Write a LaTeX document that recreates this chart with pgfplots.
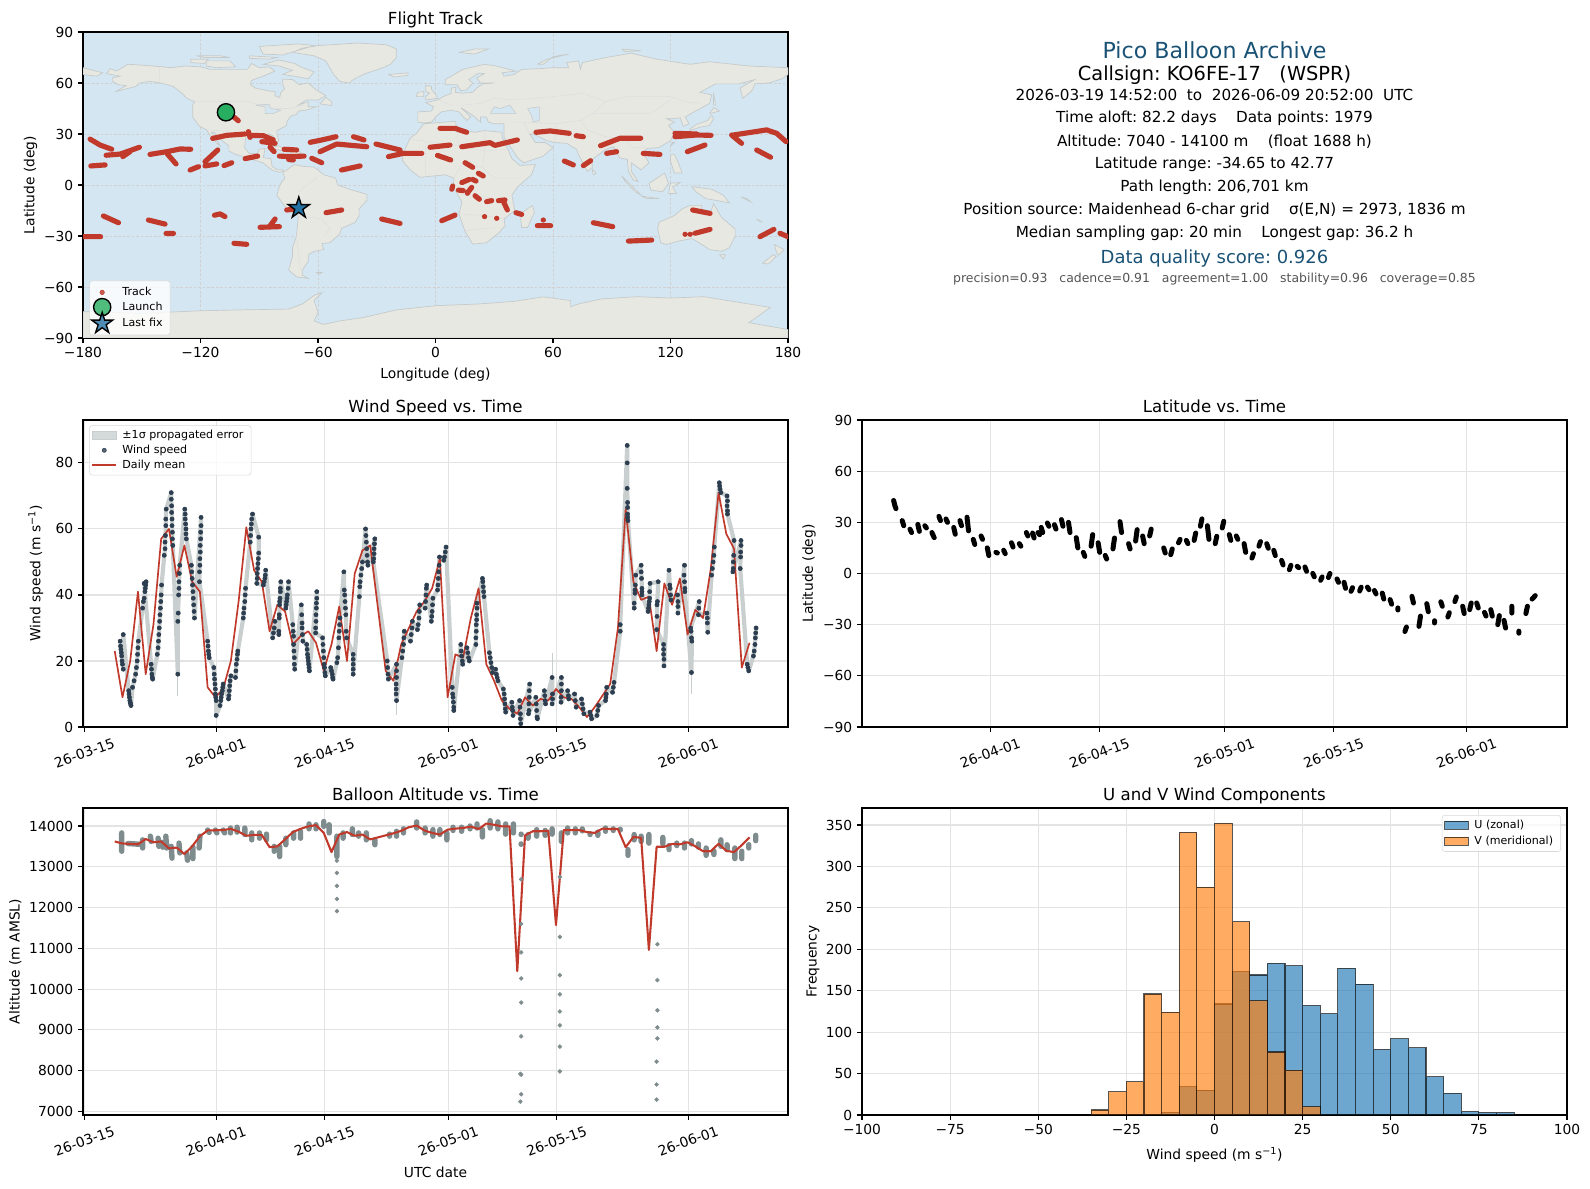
\documentclass[border=0pt]{standalone}
\usepackage{pgfplots}
\usepackage{pgfplotstable}
\usepackage{fontspec}
\setmainfont{DejaVu Sans}
\pgfplotsset{compat=1.18}
\definecolor{ocean}{HTML}{D4E6F1}
\definecolor{landc}{HTML}{E8E8E3}
\definecolor{landedge}{HTML}{C5CACA}
\definecolor{trackred}{HTML}{C0392B}
\definecolor{navy}{HTML}{2C3E50}
\definecolor{slate}{HTML}{7F8C8D}
\definecolor{titleblue}{HTML}{1A5276}
\definecolor{launchgreen}{HTML}{27AE60}
\definecolor{fixblue}{HTML}{2471A3}
\definecolor{cu}{HTML}{1F77B4}
\definecolor{cv}{HTML}{FF7F0E}
\def\U{0.72bp}
\newcommand{\fs}[1]{\fontsize{#1}{#1}\selectfont}

\pgfdeclareplotmark{fstar}{%
  \pgfpathmoveto{\pgfqpoint{0pt}{1\pgfplotmarksize}}%
  \pgfpathlineto{\pgfqpoint{-.2245\pgfplotmarksize}{.309\pgfplotmarksize}}%
  \pgfpathlineto{\pgfqpoint{-.951\pgfplotmarksize}{.309\pgfplotmarksize}}%
  \pgfpathlineto{\pgfqpoint{-.363\pgfplotmarksize}{-.118\pgfplotmarksize}}%
  \pgfpathlineto{\pgfqpoint{-.588\pgfplotmarksize}{-.809\pgfplotmarksize}}%
  \pgfpathlineto{\pgfqpoint{0pt}{-.382\pgfplotmarksize}}%
  \pgfpathlineto{\pgfqpoint{.588\pgfplotmarksize}{-.809\pgfplotmarksize}}%
  \pgfpathlineto{\pgfqpoint{.363\pgfplotmarksize}{-.118\pgfplotmarksize}}%
  \pgfpathlineto{\pgfqpoint{.951\pgfplotmarksize}{.309\pgfplotmarksize}}%
  \pgfpathlineto{\pgfqpoint{.2245\pgfplotmarksize}{.309\pgfplotmarksize}}%
  \pgfpathclose\pgfusepathqfillstroke}

\pgfplotsset{
  panel/.style={
    scale only axis, width=705*\U, height=306*\U, anchor=south west,
    tick align=outside, tick pos=left, tickwidth=3.5pt,
    major tick style={black,line width=.8pt},
    axis line style={line width=.8pt},
    scaled ticks=false,
    grid=major, grid style={line width=.8pt,black!11},
    tick label style={font=\fs{10}},
    label style={font=\fs{10}},
    title style={font=\fs{12},at={(axis description cs:.5,1)},anchor=center,yshift=4*\U,
      text height=9pt,text depth=2.5pt},
    legend cell align=left,
    unbounded coords=jump,
  },
  dates/.style={
    xticklabel style={rotate=20,anchor=center,xshift=-7.5*\U,yshift=-20*\U},
  },
  leg/.style={
    legend style={font=\fs{8},draw=black!15,fill=white,fill opacity=.8,text opacity=1,
      rounded corners=2pt,inner sep=1.5pt},
  },
  land/.style={fill=landc,draw=landedge,line width=.5pt,forget plot},
  sea/.style={fill=ocean,draw=landedge,line width=.4pt,forget plot},
}

% islands: lon lat, nan rows split the shapes
\pgfplotstableread[row sep=crcr]{
x y\\
-73 78\\-68 80.5\\-60 82\\-40 83.5\\-25 82.5\\-20 80\\-20 75\\-23 71\\-28 68.5\\-36 65.5\\-42 62\\-44 60\\-49 61\\-52 65\\-54 69\\-56 73\\-62 76\\-73 78\\0 nan\\
-80 73.5\\-72 71.5\\-68 69\\-62 66.5\\-65 62.5\\-72 64\\-78 65\\-73 67.5\\-80 70\\-88 71\\-80 73.5\\0 nan\\
-117 73\\-105 73\\-102 69.5\\-112 69\\-117 70\\-117 73\\0 nan\\
-125 74\\-116 74\\-118 71.5\\-125 72\\-125 74\\0 nan\\
-88 77\\-78 76.5\\-62 82\\-70 83\\-90 81.5\\-88 77\\0 nan\\
-95 76\\-81 75\\-85 74\\-95 74.5\\-95 76\\0 nan\\
-122 76\\-110 76\\-105 75\\-118 75\\-122 76\\0 nan\\
-59 47.7\\-53 46.8\\-53 49\\-56 51.5\\-59 47.7\\0 nan\\
-85 22\\-80 23\\-74.5 20\\-78 20\\-85 22\\0 nan\\
-74 19.8\\-69 19.5\\-68.5 18.3\\-74 18\\-74 19.8\\0 nan\\
-180 69\\-175 67.5\\-170 66\\-173 64\\-180 65\\-180 69\\0 nan\\
-61 -51.5\\-58 -51.5\\-59 -52.3\\-61 -51.5\\0 nan\\
49.5 -12\\50.5 -16\\47 -25\\44 -25\\43.5 -20\\44.5 -16\\49.5 -12\\0 nan\\
-5 50\\1 51\\0 53.5\\-2 56\\-2 58\\-5 58.5\\-5 55\\-3 54\\-5 52\\-5 50\\0 nan\\
-10 52\\-6 52\\-6 55\\-9 54.5\\-10 52\\0 nan\\
-24 65\\-14 66\\-14 64.5\\-21 63.5\\-24 65\\0 nan\\
12 78\\20 80\\27 80\\20 77\\12 78\\0 nan\\
52 71\\57 74\\68 77\\60 75.5\\55 71\\52 71\\0 nan\\
95 80\\105 79\\97 78.5\\95 80\\0 nan\\
142 54\\143 47\\142 47\\142 54\\0 nan\\
130 32\\135 34\\140 35\\142 39\\141 41\\139 38\\133 35.5\\130 33\\130 32\\0 nan\\
140 42\\145 43.5\\142 45.5\\140 42\\0 nan\\
120 23\\122 25\\121 25\\120 23\\0 nan\\
120 18\\122 18\\124 13\\126 7\\122 7\\120 14\\120 18\\0 nan\\
109 1\\117 7\\119 1\\116 -4\\110 -3\\109 1\\0 nan\\
95 5.5\\105 -6\\102 -4\\97 2\\95 5.5\\0 nan\\
105 -6.5\\114 -8\\108 -8\\105 -6.5\\0 nan\\
119 -5\\120 1\\125 1.5\\121 -1\\123 -5\\119 -5\\0 nan\\
131 -1\\141 -2.5\\147 -6\\150 -10.5\\143 -9\\138 -8\\133 -4\\131 -1\\0 nan\\
80 9.5\\82 7\\80.5 6\\80 9.5\\0 nan\\
156 -7\\161 -10\\159 -8\\156 -7\\0 nan\\
164 -20\\167 -22\\165 -21\\164 -20\\0 nan\\
145 -41\\148 -41\\147 -43.5\\145 -41\\0 nan\\
173 -35\\178 -38\\175 -41.5\\174 -39\\173 -35\\0 nan\\
172.5 -41\\174 -42\\170 -46.5\\167 -46\\172.5 -41\\
}\islandtable

% wind speed samples: day since 26-03-15, m/s
\pgfplotstableread[row sep=crcr]{
d v\\
4.6 26\\4.65 24.5\\4.7 23.5\\4.75 22.5\\4.8 21.5\\4.85 20\\4.9 19\\5 17.5\\5 28\\
5.7 11\\5.75 10\\5.8 9\\5.85 8\\5.9 7.5\\5.95 7\\6 6.5\\
6.2 12\\6.4 14\\6.6 16\\6.7 18\\6.8 20\\6.85 22\\6.9 24\\6.95 26\\
7.5 36\\7.6 38\\7.7 39\\7.8 41\\7.85 42\\7.9 43\\7.95 44\\7.7 43.5\\
8.6 19\\8.65 17.5\\8.7 16\\8.75 15\\8.8 14.5\\
9.4 22\\9.5 24\\9.55 26\\9.6 28\\9.65 30\\9.7 32\\9.75 34\\9.8 36\\9.85 38\\9.9 40\\9.95 43\\
10.3 52\\10.4 54\\10.4 56\\10.45 58\\10.5 61\\10.5 63\\10.55 66\\
11.2 71\\11.2 69\\11.25 67\\11.25 65\\11.3 63\\11.3 61\\11.35 59\\11.35 57\\11.4 55\\
12.05 16\\12.05 32\\12.1 34.5\\12.15 40\\12.2 42\\12.2 44\\12.25 46.5\\12.3 49\\
12.95 66\\13 64.5\\13 63\\13.05 61.5\\13.1 60\\13.1 58.5\\13.15 57\\
13.8 49\\13.85 47\\13.9 45\\13.95 43\\14 41\\14.05 39\\14.1 37\\14.15 35\\14.2 33\\
15.05 63.5\\15.05 61\\15 59\\15 57\\14.95 55\\14.95 53\\14.9 51\\14.9 49\\14.85 47\\14.85 44\\
15.9 26\\15.95 24.5\\16 23\\16.05 22\\16.1 21\\
16.7 18\\16.75 16\\16.8 14.5\\16.85 13\\16.9 11.5\\16.9 10\\16.95 9\\17 8\\17 3.5\\
17.5 6.5\\17.6 8\\17.65 9\\17.7 10\\17.8 11\\17.85 12\\17.9 13\\
18.6 8.5\\18.65 9.5\\18.7 11\\18.75 12.5\\18.8 14\\18.9 15.5\\
19.5 15\\19.55 17\\19.6 19\\19.7 20.5\\19.75 22\\19.8 23\\
20.5 33\\20.55 34.5\\20.6 36\\20.7 38\\20.75 40\\20.8 42\\
21.4 56\\21.45 58\\21.5 60\\21.55 61.5\\21.6 63\\21.7 64.5\\
22.5 57.5\\22.5 52.7\\22.45 51\\22.4 49.5\\22.35 48\\22.3 46.5\\22.3 45\\22.25 43.5\\
23.1 43\\23.2 44\\23.3 45\\23.35 46\\23.4 47.5\\
24.3 27\\24.4 28.5\\24.5 30\\24.6 32\\
25.1 28\\25.1 29\\25.15 33\\25.15 34\\25.2 37\\25.2 38\\25.25 39\\25.3 41\\25.3 42\\25.35 44\\
26 36\\26.05 37\\26.1 38\\26.15 39\\26.2 40\\26.3 42\\26.35 44\\
26.9 31\\26.95 29\\27 27.5\\27 25\\27.05 23\\27.1 21\\27.1 19\\27.15 17.5\\
28 37\\28.05 34\\28.1 31.5\\28.1 30\\28.15 28\\28.2 26\\
28.7 25\\28.75 23.5\\28.8 22\\28.85 21\\28.9 20\\28.95 19\\29 18\\29.05 17\\
30 41\\30 39\\29.95 37.5\\29.95 36\\29.9 34\\29.9 32\\29.85 30\\29.85 28.5\\
30.75 27\\30.8 25\\30.85 23\\30.9 21\\30.95 19\\31 18\\31.05 16.5\\31.1 15.5\\
31.8 18\\31.9 17\\32 16\\32.05 15\\32.1 14.5\\
32.6 19.5\\32.7 21\\32.8 24\\32.85 27\\32.9 29\\32.95 31\\33 33\\
33.5 47\\33.55 41.5\\33.6 40\\33.65 38\\33.7 36\\33.75 34\\33.8 29\\33.85 27\\
34.7 22\\34.7 20.5\\34.7 19\\34.7 17.5\\34.7 16\\
35.5 39.5\\35.55 42.5\\35.6 44\\35.7 46\\35.8 48\\35.9 50\\
36.3 60\\36.35 58\\36.4 56\\36.45 54\\36.5 52\\36.55 50\\36.6 49\\
37.5 57\\37.45 55.5\\37.4 54\\37.4 52.5\\37.35 51\\37.3 50\\
39.1 20\\39.15 18\\39.2 16\\39.25 14.5\\
40.3 19\\40.3 17\\40.3 15\\40.25 13\\40.25 11.5\\40.25 10\\40.3 8\\
41 21\\41.1 23\\41.2 25\\41.25 27\\41.3 29\\
42.1 26\\42.2 28\\42.3 30\\42.35 32\\
43 29.5\\43.1 31\\43.2 33\\43.25 35\\43.3 37\\
44 36\\44.05 38\\44.1 40\\44.15 42\\44.2 43\\
44.8 32\\44.85 33.5\\44.9 35\\44.95 37\\45 39\\
45.6 41.5\\45.65 43\\45.7 45\\45.75 47\\45.8 49\\45.85 51.5\\
46.4 50.5\\46.5 51.5\\46.6 53\\46.7 54.5\\
47.5 12\\47.55 10\\47.6 9\\47.65 7.5\\47.7 6\\47.7 5\\
48.6 25\\48.65 23\\48.7 21.5\\48.8 20\\48.85 19\\
49.4 24\\49.5 22.5\\49.6 21\\49.7 20\\
50.55 25\\50.55 27\\50.6 29\\50.6 31\\50.65 32.5\\50.65 34\\50.7 36\\50.7 37.5\\
51.4 45\\51.45 44\\51.5 42.5\\51.55 41\\51.6 39.5\\
52.3 22.5\\52.4 21\\52.5 19.5\\52.6 18\\52.7 16.5\\
53.1 17.5\\53.2 16\\53.3 15\\53.4 14\\
54.1 11.5\\54.2 10\\54.25 8.5\\54.3 7\\54.35 5.5\\54.4 4.5\\
55.2 7.5\\55.25 6\\55.3 5\\55.35 3.5\\
56.2 8\\56.25 6\\56.3 4\\56.3 2.5\\56.35 1\\
57.5 13\\57.45 11\\57.45 9\\57.4 7\\57.4 5\\57.35 4\\
58.3 9\\58.35 7\\58.4 5\\58.45 3\\58.5 2.5\\
59.4 11\\59.45 9.5\\59.5 8\\59.55 7\\
60.4 15\\60.45 10\\60.45 8.5\\60.4 7\\
61.6 15\\61.6 13\\61.6 11\\61.55 9\\61.55 7.5\\
62.4 11\\62.5 9.5\\62.55 8.5\\
63.3 10\\63.4 8\\63.5 6\\
64.2 8.5\\64.3 7\\64.4 5.5\\64.5 4\\
65.3 4.5\\65.4 3.5\\65.5 2.5\\
66.2 3.5\\66.3 5\\66.4 6.5\\
67.3 8\\67.35 9\\67.4 10\\67.45 12\\
68.2 10.5\\68.3 12\\68.4 13.5\\
69.2 29\\69.2 31\\
70.1 85.3\\70.1 80\\70.1 72.3\\70.15 68\\70.15 66.5\\70.15 64.5\\70.15 63.5\\70.2 62.5\\
71 36\\71 37.5\\71.1 40.5\\71.1 41.5\\71.15 43\\71.2 46\\
71.9 49\\71.9 47\\71.95 45\\72 42\\72 41\\72 40\\
72.8 35\\72.85 36\\72.9 37\\72.95 38\\73 39\\73 41\\73.05 43.5\\
74.1 44\\74 38\\73.95 37\\73.95 33.5\\73.9 29.5\\
74.8 25\\74.8 23.5\\74.8 22\\74.85 20.5\\74.85 18.5\\
75.5 47.5\\75.6 43\\75.65 42\\75.7 40\\75.75 38.5\\
76.6 40\\76.65 38\\76.65 36.5\\76.65 34.5\\
77.5 49\\77.45 46\\77.5 44\\77.55 42\\77.55 41\\
78.4 16.5\\78.45 26\\78.4 27\\78.35 29\\78.3 30\\
79.4 38\\79.35 36\\79.3 34\\
80.4 34.5\\80.45 33\\80.45 31.5\\80.5 28.7\\
81 46\\81.1 48\\81.2 50\\81.3 52\\81.35 54.5\\
82 74\\82.05 73\\82.1 72\\82.2 71\\
83 70\\83.05 68.5\\83 67\\83.05 65.5\\83.05 64.5\\
83.9 56.5\\83.85 52\\83.8 50\\83.8 48\\83.75 47\\
84.8 56.5\\84.8 55\\84.75 53\\84.75 51.5\\84.7 48\\
85.6 19\\85.7 18\\85.8 17\\
86.4 21.5\\86.5 23\\86.6 25\\86.65 27\\86.7 28.5\\86.75 30\\
}\windtable

% daily means (same day index for wind and altitude)
\pgfplotstableread[row sep=crcr]{
d v h\\
3.9 23 13620\\4.9 9 13570\\5.9 20 13560\\6.9 41 13550\\7.9 16 13680\\8.9 31 13600\\9.9 57 13620\\10.9 60 13450\\11.9 45.5 13470\\12.9 55 13310\\
13.9 44 13500\\14.9 41 13750\\15.9 12 13890\\16.9 9 13895\\17.9 11.5 13900\\18.9 20 13930\\19.9 38 13860\\20.9 60.5 13760\\21.9 47.5 13780\\22.9 44 13780\\
23.9 29 13480\\24.9 37 13500\\25.9 35 13670\\26.9 25 13850\\27.9 27.5 13930\\28.9 29 13990\\29.9 25.5 14020\\30.9 17 13830\\31.9 25 13360\\32.9 36.5 13790\\
33.9 20 13850\\34.9 46.5 13760\\35.9 53.5 13790\\36.9 55 13670\\37.9 36 13720\\38.9 17 13770\\39.9 14 13820\\40.9 25 13880\\41.9 30 13970\\42.9 35 14010\\
43.9 38 13890\\44.9 42 13830\\45.9 51 13790\\46.9 9 13910\\47.9 22 13935\\48.9 21 13950\\49.9 33 13985\\50.9 42 13925\\51.9 19 14060\\52.9 14 14030\\
53.9 8 13990\\54.9 5.5 13990\\55.9 4 10440\\56.9 9 13770\\57.9 6.5 13870\\58.9 8.5 13870\\59.9 8 13885\\60.9 11.5 11570\\61.9 9 13900\\62.9 8.5 13900\\
63.9 6 13900\\64.9 3 13850\\65.9 6 13830\\66.9 9.5 13935\\67.9 13 13925\\68.9 30 13925\\69.9 66 13480\\70.9 44 13730\\71.9 38.5 13710\\72.9 39.5 10960\\
73.9 23 13490\\74.9 43.5 13490\\75.9 37 13560\\76.9 45 13550\\77.9 28 13600\\78.9 35.5 13500\\79.9 33 13380\\80.9 48 13380\\81.9 71 13565\\82.9 58.5 13390\\
83.9 54 13360\\84.9 18 13530\\85.9 25.5 13720\\
}\dailytable

\begin{document}
\frenchspacing
\begin{tikzpicture}
\path[use as bounding box] (0,0) rectangle (1590*\U,1189*\U);

%%% Flight track map
\begin{axis}[panel, leg, at={(83*\U,851*\U)},
  title={Flight Track}, xlabel={Longitude (deg)}, ylabel={Latitude (deg)},
  xmin=-180,xmax=180,ymin=-90,ymax=90,
  xtick={-180,-120,-60,0,60,120,180}, xticklabels={−180,−120,−60,0,60,120,180},
  ytick={-90,-60,-30,0,30,60,90}, yticklabels={−90,−60,−30,0,30,60,90},
  axis background/.style={fill=ocean},
  grid style={line width=.4pt,black!18,dash pattern=on 2pt off 1.2pt},
  x label style={at={(axis description cs:.5,-.121)},anchor=center},
  y label style={at={(axis description cs:-.0743,.5)},anchor=center},
  legend style={at={(axis description cs:.0089,.0088)},anchor=south west,row sep=-3bp,column sep=3bp,
    nodes={minimum height=13.6bp,inner ysep=0pt,inner xsep=4pt}},
]
% continents
\addplot[land] coordinates {
(-168,65.5)(-166,68.5)(-163,67)(-157,71)(-150,70.5)(-141,69.7)(-135,69)(-128,70)(-120,69.5)(-115,68)(-108,68)(-100,68)(-96,68)(-94,71.5)(-90,69)(-85,69.5)(-82,67)(-87,64.5)(-94,61.5)(-94.5,59)(-92,57)(-85,55.3)(-82,55)(-82,52.5)(-79.5,51.5)(-79,54.5)(-77,56.5)(-78,59)(-78,62.3)(-73,62)(-69.5,59)(-65,60)(-61,56)(-56,52.5)(-60,50)(-66,50)(-70,47)(-65,49)(-65,46)(-61,46)(-66,44)(-70,43.5)(-71,41.5)(-74,40.5)(-76,37)(-76,35)(-81,32)(-81,30)(-80,26)(-81,25)(-83,29)(-85,30)(-90,29.5)(-94,29.5)(-97,27.5)(-97.5,22)(-95,18.5)(-91,18.5)(-90,21)(-87,21.5)(-88,16)(-84,15.5)(-83.5,11)(-81,9)(-78,9)(-77.5,8)(-80,7.5)(-83,8.5)(-86,11)(-88,13)(-92,14.5)(-96,16)(-102,18)(-105.5,20)(-105.5,23)(-110,27)(-113,31)(-114.5,31)(-111,25)(-110,23)(-112,25)(-115,29)(-117,32.5)(-120.5,34.5)(-124,40)(-124,47)(-123,49)(-127,51)(-130,54.5)(-134,58)(-140,60)(-146,61)(-151,60)(-153,58)(-158,56.5)(-163,55)(-158,58.5)(-162,59)(-165,61)(-165,63)(-161,64)(-168,65.5)(0,nan)
(-77,8)(-72,12)(-68,11)(-62,10.5)(-57,6)(-51,4)(-50,0)(-44,-2.5)(-35,-5.5)(-35,-9)(-39,-14)(-39,-18)(-41,-22)(-48,-25.5)(-49,-29)(-54,-34)(-58,-34.5)(-57,-38)(-62,-39)(-65,-41)(-65,-45)(-68,-50)(-68,-53)(-65,-55)(-71,-54)(-75,-50)(-73,-42)(-73,-37)(-71,-30)(-70,-18)(-76,-14)(-81,-6)(-80,-2)(-79,1)(-77,4)(-78,8)(-77,8)(0,nan)
(-6,36)(10,37.5)(11,33.5)(20,31)(25,32)(34,31)(34,28)(37,21)(39,15.5)(43,11.5)(51,12)(49,6)(42,-1)(39,-6)(40.5,-15)(35,-20)(35.5,-24)(32.5,-28)(26,-34)(19,-34.8)(15,-27)(12,-17)(13.5,-10)(9,-1)(9.5,4)(5,6)(-4,5)(-8,4.5)(-13,9)(-17,14.5)(-16,20)(-13,27.5)(-10,30)(-6,36)(0,nan)
(-9,37)(-9,43)(-2,43.5)(-1,46)(-5,48.5)(1,50)(4,52)(8,54)(8,57)(10.5,57.5)(10,54.5)(14,54)(19,54.5)(21,57)(24,59.5)(30,60)(23,60)(21,63)(25,65.5)(22,65.8)(17,62)(19,60)(16,56)(13,55.5)(11,59)(5,59)(5,62)(14,68)(25,71)(31,70)(41,67)(34,66)(35,64)(40,65)(44,68)(54,68.5)(60,69)(68,69)(67,72)(73,73)(74,68)(75,72)(81,73.5)(87,75)(100,77.5)(113,74)(130,71)(140,72.5)(160,70)(170,69.5)(180,69)(180,65)(177,62.5)(170,60)(163,59.5)(162,56)(157,51)(155.5,57)(163,62)(155,59.5)(143,59.5)(135,54.5)(141,53)(140,48)(132,43)(127.5,40)(129.5,36)(126.5,34.5)(125,39.5)(121,39)(118,39)(122,37)(119,35)(122,31)(120,26)(114,22)(108,21.5)(106,19)(109,13)(105,9)(100,13)(100,8)(103.5,2)(101,3)(98.5,8)(98,15)(94,16)(91,22.5)(87,21)(80,15)(80,10)(77.5,8)(73,18)(72,21)(67,24.5)(61,25)(57,26)(50,30)(48,30)(51,25)(56,25)(60,22)(55,17)(45,13)(42,16)(35,28)(35,36)(30,36)(27,37)(26,40)(23,40)(23,37)(19,41)(13,45.5)(18,40)(16,38)(12,43)(8,44)(3,43)(0,40)(-2,37)(-6,36.5)(-9,37)(0,nan)
(114,-22)(122,-18)(126,-14)(130,-12)(136,-12)(136,-15)(140,-17.5)(142,-11)(146,-19)(153,-26)(153,-30)(150,-37)(146,-39)(140,-38)(136,-35)(131,-31.5)(124,-33)(118,-35)(115,-34)(113.5,-26)(114,-22)(0,nan)
(-180,-90)(-180,-74.5)(-150,-75.5)(-120,-74)(-100,-73.5)(-75,-73)(-68,-70)(-62,-65)(-58,-63.3)(-62,-68)(-60,-75)(-62,-80)(-57,-82)(-49,-80)(-37,-78)(-20,-73.5)(0,-71)(22,-70)(40,-68.5)(55,-65.8)(69,-68)(69,-71.6)(73,-70)(85,-67)(103,-65.7)(120,-66.5)(137,-65.7)(160,-70)(171,-72)(165,-77)(160,-81)(180,-85)(180,-90)(-180,-90)
};
% inland seas
\addplot[sea] coordinates {(28,42)(30,46)(33,45)(38,47)(41,42)(35,42)(28,42)(0,nan)(47,45)(53,46)(53,38)(50,37)(49,41)(47,45)(0,nan)(-92,47)(-85,47.5)(-84,45)(-79,44)(-83,42)(-87,42)(-87,46)(-92,47)};
% a few borders
\addplot[line width=.4pt,black!13,forget plot] coordinates {(-123,49)(-95,49)(-83,45)(-75,45)(-67,47)(0,nan)(-117,32.5)(-106,31.5)(-97,26)(0,nan)(-141,69.7)(-141,60)(0,nan)(-70,-18)(-58,-20)(-54,-26)(-57,-30)(0,nan)(-70,-4)(-60,5)(0,nan)(-70,-18)(-70,-5)(0,nan)(-71,-30)(-69,-50)(0,nan)(25,32)(25,20)(37,21)(0,nan)(10,37)(12,23)(25,20)(24,10)(30,4)(42,4)(0,nan)(-13,27)(12,23)(0,nan)(-5,5)(-5,25)(0,nan)(9,4)(14,13)(24,10)(0,nan)(13,-5)(30,-8)(40,-11)(0,nan)(12,-17)(25,-18)(35,-20)(0,nan)(15,-27)(30,-25)(0,nan)(2,50)(8,47)(14,47)(23,48)(30,51)(40,50)(50,51)(60,52)(75,54)(87,49)(98,52)(120,52)(128,49)(135,48)(0,nan)(87,49)(80,42)(74,38)(62,36)(50,37)(0,nan)(80,42)(90,42)(110,42)(120,50)(0,nan)(74,38)(78,32)(88,28)(97,28)(100,22)(107,22)(0,nan)(62,36)(61,25)(0,nan)(39,37)(45,37)(48,30)(0,nan)(45,37)(62,36)};
% Greenland, arctic and other islands
\addplot[land] table[x=x,y=y] {\islandtable};
% track
\addplot[trackred,line width=3.7bp,line cap=round,line join=round,forget plot] coordinates {
(-103.2,40.2)(-100.7,37.8)(0,nan)
(-176.4,27)(-171.3,23.5)(-165.3,21)(0,nan)
(-168.2,17.5)(-161,18.2)(-156,20.2)(-151.2,22.2)(0,nan)
(-159.7,16.7)(-156,19.6)(0,nan)
(-145.8,18)(-137.2,19.6)(-130.4,21.2)(-125,21)(0,nan)
(-136.9,18.2)(-132.5,12.4)(0,nan)
(-176,11.2)(-168.7,11.8)(0,nan)
(-125.3,8.8)(-121,10.8)(0,nan)
(-117.7,11.2)(-111.7,12.4)(0,nan)
(-117.7,13.7)(-111.2,20.6)(0,nan)
(-108,11.4)(-104,13.1)(0,nan)
(-113.8,27.4)(-106.6,29.2)(-97.2,30)(0,nan)
(-95.5,31.4)(-94.7,28)(0,nan)
(-94.7,29.2)(-87.9,29)(-82.8,26.5)(0,nan)
(-88.7,25.5)(-81.9,24.5)(0,nan)
(-84.5,22.2)(-82.4,19.6)(0,nan)
(-97.2,15.5)(-90.8,17)(0,nan)
(-77.3,21)(-70.9,20.6)(0,nan)
(-79.7,17)(-74.3,16.7)(-67.1,17)(0,nan)
(-75,15)(-72.6,14.7)(0,nan)
(-63.2,15.7)(-58.1,13.1)(0,nan)
(-64,25.1)(-58,26.5)(-50.8,28.4)(0,nan)
(-59,19.6)(-50.4,24.1)(-35.1,22.5)(0,nan)
(-41.9,28.4)(-36.5,26.5)(0,nan)
(-30.4,24.1)(-18.1,20.6)(0,nan)
(-24,16.7)(-16.4,18.6)(-7,18.6)(0,nan)
(-48,8.8)(-38.5,11.2)(0,nan)
(-169.6,-18.2)(-161.9,-22.2)(0,nan)
(-146.6,-20.6)(-138.1,-23)(0,nan)
(-137.6,-28.5)(-133.8,-28.5)(0,nan)
(-180,-30.4)(-171,-30.4)(0,nan)
(-112.9,-17.8)(-110,-17)(-107.5,-18.6)(0,nan)
(-102.9,-34.3)(-96.4,-34.9)(0,nan)
(-89.6,-24.9)(-79.7,-24.5)(0,nan)
(-84.8,-24.5)(-81.9,-20)(0,nan)
(-76,-14.7)(-72.6,-14.3)(0,nan)
(-55.9,-16.3)(-47.9,-14.7)(0,nan)
(-27.5,-20)(-18.1,-22.6)(0,nan)
(-2.8,22.2)(7.4,23.5)(0,nan)
(2.3,33.3)(10,33.3)(15.9,31)(0,nan)
(13.4,22.5)(27.8,24.9)(30.4,23.3)(41.8,26.5)(0,nan)
(1,17.4)(7.8,14.7)(0,nan)
(15.1,13.1)(19,10.4)(0,nan)
(21.9,6.9)(24.4,5.3)(0,nan)
(13.4,1.4)(17.3,3.3)(0,nan)
(19,3.3)(20.7,2.3)(0,nan)
(8.8,-0.6)(8.3,-2.5)(0,nan)
(11.7,-3)(14.2,-3.3)(0,nan)
(16.3,-4.9)(16.8,-3.9)(18.5,-1.4)(0,nan)
(20.2,-6.3)(22.4,-8.4)(0,nan)
(26.1,-9.8)(28.7,-9.2)(0,nan)
(32.1,-9.2)(35.5,-8.8)(0,nan)
(34.3,-8.8)(36.7,-14.7)(0,nan)
(41.1,-16.3)(44,-17.3)(0,nan)
(3.2,-21)(10,-17.7)(0,nan)
(25,-18.6)(25.1,-18.6)(0,nan)
(31.2,-19.6)(31.3,-19.6)(0,nan)
(52,-23.9)(58.8,-23.9)(0,nan)
(55,-20.6)(55.1,-20.6)(0,nan)
(51.3,31)(58.5,31.8)(68.3,30.4)(0,nan)
(71.8,29)(75.5,28.4)(0,nan)
(65.8,14.1)(70.4,11.8)(0,nan)
(75.5,11.4)(79.2,14.3)(0,nan)
(84.3,23.1)(94.2,27.5)(104.8,27.5)(0,nan)
(87.4,18.6)(92.5,19.6)(0,nan)
(106.1,18.6)(114.6,18)(0,nan)
(80.6,-22.2)(90.5,-24.5)(0,nan)
(98.5,-33)(110.4,-32.4)(0,nan)
(122.3,30.4)(133.4,30)(0,nan)
(122.3,28.4)(133.4,29.4)(140.7,29.2)(0,nan)
(128.6,19.6)(137.6,23.5)(0,nan)
(131.3,-14.7)(140.2,-16.7)(0,nan)
(127.4,-29)(127.5,-29)(0,nan)
(130,-29)(130.1,-29)(0,nan)
(132.5,-28.4)(140.2,-26.1)(0,nan)
(151.2,29.4)(156.3,24.5)(0,nan)
(152.1,29.4)(169.1,32.4)(174.2,30.4)(179,25.5)(0,nan)
(164,20.6)(171.1,16.3)(0,nan)
(165.7,-30.4)(172.8,-26.1)(0,nan)
(175.9,-28.4)(180,-30.4)
};
\addlegendimage{only marks,mark=*,mark size=1.6bp,trackred,draw=trackred}
\addlegendentry{Track}
\addplot[only marks,mark=*,mark size=6.2bp,mark options={fill=launchgreen,draw=black,line width=1pt}] coordinates {(-107,42.77)};
\addlegendentry{Launch}
\addplot[only marks,mark=fstar,mark size=8bp,mark options={fill=fixblue,draw=black,line width=1pt}] coordinates {(-69.8,-13.6)};
\addlegendentry{Last fix}
\end{axis}

%%% Wind speed
\begin{axis}[panel, leg, dates, at={(83*\U,462*\U)}, height=307*\U,
  title={Wind Speed vs. Time}, ylabel={Wind speed (m s\textsuperscript{−1})},
  xmin=-.2,xmax=90.87,ymin=0,ymax=93,
  xtick={0,17,31,47,61,78}, xticklabels={26-03-15,26-04-01,26-04-15,26-05-01,26-05-15,26-06-01},
  ytick={0,20,40,60,80}, yticklabels={0,20,40,60,80},
  y label style={at={(axis description cs:-.067,.5)},anchor=center},
  legend style={at={(axis description cs:.0089,.9827)},anchor=north west,row sep=-1pt,
    nodes={inner xsep=4pt}},
]
\addplot[slate!42,line width=3bp,line join=round,line cap=round,forget plot] table[x=d,y=v] {\windtable};
\addplot[slate!42,line width=.8pt,forget plot] coordinates {(12.05,9.5)(12.05,33)(0,nan)(78.4,10)(78.4,27)(0,nan)(60.4,9)(60.4,22.5)(0,nan)(40.3,3.5)(40.3,12)(0,nan)(47.6,8)(47.6,13)};
\addlegendimage{area legend,fill=slate!42,draw=slate!42,sharp corners}
\addlegendentry{±1σ propagated error}
\addplot[only marks,mark=*,mark size=1.5bp,navy,mark options={draw=navy,fill=navy}] table[x=d,y=v] {\windtable};
\addlegendentry{Wind speed}
\addplot[trackred,line width=1.2pt,line join=round] table[x=d,y=v] {\dailytable};
\addlegendentry{Daily mean}
\end{axis}

%%% Latitude
\begin{axis}[panel, dates, at={(862*\U,462*\U)}, height=307*\U,
  title={Latitude vs. Time}, ylabel={Latitude (deg)},
  xmin=.55,xmax=90.87,ymin=-90,ymax=90,
  xtick={17,31,47,61,78}, xticklabels={26-04-01,26-04-15,26-05-01,26-05-15,26-06-01},
  ytick={-90,-60,-30,0,30,60,90}, yticklabels={−90,−60,−30,0,30,60,90},
  y label style={at={(axis description cs:-.075,.5)},anchor=center},
]
\addplot[black,line width=3.6bp,line cap=round] coordinates {
(4.6,42.8)(4.75,40)(4.9,38)(0,nan)(5.7,31)(5.9,28)(0,nan)(6.7,26)(6.9,24)(0,nan)(7.7,28.8)(7.9,24.7)(0,nan)(8.6,28)(8.8,26.7)(0,nan)(9.5,24)(9.8,21)(0,nan)
(10.4,33.5)(10.6,31)(0,nan)(11.3,32)(11.5,30)(0,nan)(12.3,27)(12.5,23)(0,nan)(13.1,31)(13.3,28)(0,nan)(14,33)(14.2,25)(0,nan)(14.8,20)(15,17)(0,nan)(15.8,22)(16,20)(0,nan)
(16.6,15)(16.8,10.5)(0,nan)(17.7,12.4)(17.9,12)(0,nan)(18.7,13.6)(18.9,11.6)(0,nan)(19.7,18)(19.9,15.5)(0,nan)(20.7,17.5)(20.9,16)(0,nan)(21.6,24)(21.8,22)(0,nan)
(22.4,23.7)(22.6,20.8)(0,nan)(23.1,24)(23.3,22.7)(0,nan)(23.5,27)(23.7,24)(0,nan)(24.3,29.6)(24.5,27.7)(0,nan)(25.2,28.6)(25.4,26)(0,nan)(26.1,31.6)(26.3,27.7)(0,nan)
(27,30)(27.2,24)(0,nan)(28,21)(28.2,15)(0,nan)(28.9,12.4)(29.1,10)(0,nan)(30.1,22.8)(29.9,16)(0,nan)(30.8,18)(31,12.4)(0,nan)(31.7,10.6)(31.9,8.5)(0,nan)
(32.9,20.8)(32.7,14.4)(0,nan)(33.6,30.4)(33.8,24)(0,nan)(34.7,17.5)(34.9,14.4)(0,nan)(35.8,25.7)(35.6,19)(0,nan)(36.5,22)(36.7,17.5)(0,nan)(37.6,26)(37.4,22)(0,nan)
(39.2,15)(39.4,12)(0,nan)(40.3,14.4)(40.1,11)(0,nan)(41.3,20)(41.1,18)(0,nan)(42.1,19.4)(42.3,17.5)(0,nan)(43.3,23.7)(43.1,19.4)(0,nan)(44.1,32)(43.9,27.7)(0,nan)
(44.8,28)(45,20)(0,nan)(46,21.8)(45.8,17.5)(0,nan)(46.9,30.6)(46.7,26.7)(0,nan)(47.6,22.8)(47.8,19.4)(0,nan)(48.5,22)(48.7,20)(0,nan)(49.5,17.5)(49.7,12.4)(0,nan)
(50.7,11.6)(50.5,9)(0,nan)(51.6,18.7)(51.4,16)(0,nan)(52.4,17.5)(52.6,14.8)(0,nan)(53.3,13.6)(53.5,10.5)(0,nan)(54.3,7.7)(54.5,5)(0,nan)(55.5,4.8)(55.3,2.2)(0,nan)
(56.3,4.2)(56.5,3.4)(0,nan)(57.3,3.8)(57.5,1.3)(0,nan)(58.3,0)(58.5,-2)(0,nan)(59.5,-2)(59.3,-4)(0,nan)(60.5,0)(60.3,-2.4)(0,nan)(61.4,-3.2)(61.6,-5.2)(0,nan)
(62.3,-5.2)(62.5,-8.7)(0,nan)(63.4,-8.3)(63.2,-10.5)(0,nan)(64.5,-8)(64.3,-10.3)(0,nan)(65.3,-8)(65.5,-9.5)(0,nan)(66.2,-10)(66.4,-12)(0,nan)(67.2,-11.5)(67.4,-15)(0,nan)
(68.2,-15.3)(68.4,-18)(0,nan)(69.2,-20.2)(69.2,-21.4)(0,nan)(70.3,-31.4)(70.1,-34)(0,nan)(71,-13.4)(71.2,-17.3)(0,nan)(72.1,-25)(71.9,-31)(0,nan)(72.9,-17.7)(73.1,-22.4)(0,nan)
(73.9,-27.7)(73.9,-29)(0,nan)(74.7,-16.6)(74.9,-19.2)(0,nan)(75.8,-23)(75.6,-25.5)(0,nan)(76.7,-13.8)(76.5,-16.5)(0,nan)(77.5,-19.2)(77.7,-23.5)(0,nan)(78.6,-17.3)(78.4,-21.2)(0,nan)
(79.3,-17.3)(79.5,-20.2)(0,nan)(80.3,-22.8)(80.5,-25)(0,nan)(81.1,-21.2)(81.3,-25)(0,nan)(82.2,-24.7)(82,-30)(0,nan)(82.8,-27.5)(83,-32)(0,nan)(83.8,-19.2)(83.8,-23.2)(0,nan)
(84.7,-33.8)(84.7,-35)(0,nan)(85.8,-19.2)(85.6,-23.5)(0,nan)(86.8,-13)(86.4,-15)
};
\end{axis}

%%% Altitude
\begin{axis}[panel, dates, at={(83*\U,74*\U)}, height=307*\U,
  title={Balloon Altitude vs. Time}, xlabel={UTC date}, ylabel={Altitude (m AMSL)},
  xmin=-.2,xmax=90.87,ymin=6912,ymax=14441,
  xtick={0,17,31,47,61,78}, xticklabels={26-03-15,26-04-01,26-04-15,26-05-01,26-05-15,26-06-01},
  ytick={7000,8000,...,14000}, yticklabels={7000,8000,9000,10000,11000,12000,13000,14000},
  x label style={at={(axis description cs:.5,-.188)},anchor=center},
  y label style={at={(axis description cs:-.096,.5)},anchor=center},
]
\addplot[slate,line width=3.9bp,line cap=round] coordinates {
(4.8,13830)(4.8,13380)(0,nan)(5.6,13570)(7.2,13550)(0,nan)(7.5,13660)(7.5,13460)(0,nan)(8.5,13750)(8.6,13620)(0,nan)(9.5,13700)(9.6,13500)(0,nan)(10,13600)(10.1,13480)(0,nan)(10.5,13750)(10.6,13460)(0,nan)
(11.2,13500)(11.3,13210)(0,nan)(12.2,13580)(12.3,13340)(0,nan)(13.2,13340)(13.3,13160)(0,nan)(14,13480)(14,13200)(0,nan)(14.9,13750)(14.8,13460)(0,nan)(15.9,13900)(16.1,13840)(0,nan)(16.9,13900)(17.1,13830)(0,nan)(17.9,13900)(18.1,13830)(0,nan)
(18.85,13950)(18.85,13830)(0,nan)(19.7,13970)(19.7,13850)(0,nan)(20.7,13950)(20.7,13790)(0,nan)(21.6,13830)(21.6,13660)(0,nan)(22.6,13830)(22.6,13700)(0,nan)(23.5,13800)(23.5,13660)(0,nan)(24.5,13500)(24.5,13380)(0,nan)(25.2,13500)(25.2,13250)(0,nan)
(26,13700)(26,13540)(0,nan)(27,13830)(27,13700)(0,nan)(27.9,13870)(27.9,13700)(0,nan)(29,14050)(29,13930)(0,nan)(29.9,14030)(29.9,13930)(0,nan)(30.9,14110)(30.9,13990)(0,nan)(31.6,14030)(31.6,13830)(0,nan)(32.6,13750)(32.6,13250)(0,nan)
(33.4,13830)(33.4,13700)(0,nan)(34.6,13930)(34.6,13790)(0,nan)(35.4,13830)(35.4,13750)(0,nan)(36.4,13830)(36.4,13660)(0,nan)(37.5,13660)(37.5,13540)(0,nan)(39.4,13800)(39.4,13750)(0,nan)(40.3,13870)(40.3,13750)(0,nan)(41.2,13930)(41.2,13830)(0,nan)
(42.9,14100)(42.9,13950)(0,nan)(44,13950)(44,13830)(0,nan)(45,13910)(45,13750)(0,nan)(45.9,13910)(45.9,13790)(0,nan)(46.8,13830)(46.8,13660)(0,nan)(47.6,13970)(47.6,13890)(0,nan)(48.7,13970)(48.7,13870)(0,nan)(49.8,14000)(49.8,13930)(0,nan)
(50.7,14050)(50.7,13950)(0,nan)(51.4,13910)(51.4,13730)(0,nan)(52.4,14130)(52.4,13950)(0,nan)(53.4,14100)(53.4,13930)(0,nan)(54.4,14050)(54.4,13800)(0,nan)(55.4,14050)(55.4,13830)(0,nan)(56.4,13800)(56.4,13790)(0,nan)(56.4,13560)(56.4,13550)(0,nan)
(57.3,13790)(57.3,13700)(0,nan)(58.4,13910)(58.4,13750)(0,nan)(59.5,13890)(59.5,13770)(0,nan)(60.4,13930)(60.4,13800)(0,nan)(61.6,13830)(61.6,13620)(0,nan)(62.4,13950)(62.4,13830)(0,nan)(63.4,13930)(63.4,13830)(0,nan)(64.3,13930)(64.3,13880)(0,nan)
(65.3,13810)(65.3,13790)(0,nan)(66.3,13850)(66.3,13770)(0,nan)(67.3,13950)(67.3,13870)(0,nan)(68.3,13930)(68.3,13890)(0,nan)(69.2,13920)(69.2,13900)(0,nan)(70.2,13420)(70.2,13280)(0,nan)(71,13790)(71,13660)(0,nan)(71.9,13750)(71.9,13620)(0,nan)
(72.9,13790)(72.9,13580)(0,nan)(74.7,13720)(74.7,13560)(0,nan)(75.5,13520)(75.5,13420)(0,nan)(76.5,13580)(76.5,13520)(0,nan)(77.5,13580)(77.5,13460)(0,nan)(78.4,13640)(78.4,13560)(0,nan)(79.3,13560)(79.3,13480)(0,nan)(80.3,13460)(80.3,13280)(0,nan)
(81.3,13390)(81.3,13300)(0,nan)(82.2,13660)(82.2,13500)(0,nan)(83,13540)(83,13420)(0,nan)(84,13460)(84,13200)(0,nan)(84.9,13380)(84.9,13200)(0,nan)(85.8,13540)(85.8,13460)(0,nan)(86.7,13770)(86.7,13640)
};
\addplot[only marks,mark=*,mark size=1.4bp,slate,mark options={draw=slate,fill=slate}] coordinates {
(32.6,13150)(32.6,12850)(32.6,12530)(32.6,12210)(32.6,11910)
(56.4,12690)(56.4,11600)(56.4,10900)(56.4,10260)(56.4,9670)(56.4,8840)(56.4,7900)(56.3,7920)(56.4,7420)(56.3,7240)
(61.4,12750)(61.4,11280)(61.4,10340)(61.4,9870)(61.4,9450)(61.4,9110)(61.4,8590)(61.4,7980)
(74,11100)(74,10220)(74,9480)(74,9060)(74,8790)(73.9,8220)(73.9,7660)(73.9,7290)
};
\addplot[trackred,line width=1.5pt,line join=round] table[x=d,y=h] {\dailytable};
\end{axis}

%%% U and V histogram
\begin{axis}[panel, leg, at={(862*\U,74*\U)}, height=307*\U,
  title={U and V Wind Components}, xlabel={Wind speed (m s\textsuperscript{−1})}, ylabel={Frequency},
  xmin=-100,xmax=100,ymin=0,ymax=370.5,
  xtick={-100,-75,...,100}, xticklabels={−100,−75,−50,−25,0,25,50,75,100},
  ytick={0,50,...,350}, yticklabels={0,50,100,150,200,250,300,350},
  x label style={at={(axis description cs:.5,-.13)},anchor=center},
  y label style={at={(axis description cs:-.0695,.5)},anchor=center},
  legend style={at={(axis description cs:.9915,.977)},anchor=north east,row sep=0pt,
    nodes={inner xsep=4pt}},
]
\addplot[ybar interval,fill=cu,draw=black,opacity=.65,line width=.8pt,area legend,sharp corners] coordinates {
(-15,3)(-10,34)(-5,30)(0,134)(5,173)(10,169)(15,183)(20,180)(25,132)(30,122)(35,177)(40,158)(45,79)(50,92)(55,81)(60,46)(65,26)(70,4)(75,3)(80,3)(85,0)};
\addlegendentry{U (zonal)}
\addplot[ybar interval,fill=cv,draw=black,opacity=.65,line width=.8pt,area legend,sharp corners] coordinates {
(-35,6)(-30,28)(-25,40)(-20,146)(-15,124)(-10,341)(-5,275)(0,352)(5,233)(10,138)(15,76)(20,54)(25,10)(30,0)};
\addlegendentry{V (meridional)}
\addplot[black,opacity=.65,line width=.8pt,forget plot] coordinates {(-100,0)(-35,0)(0,nan)(85,0)(100,0)};
\end{axis}

%%% info panel
\def\cx{1214.5}
\node[font=\fs{16},text=titleblue] at (\cx*\U,1138.3*\U) {Pico Balloon Archive};
\node[font=\fs{14}] at (\cx*\U,1114.2*\U) {Callsign: KO6FE-17\ \ \ (WSPR)};
\node[font=\fs{11}] at (\cx*\U,1093.7*\U) {2026-03-19 14:52:00\ \ to\ \ 2026-06-09 20:52:00\ \ UTC};
\node[font=\fs{11}] at (\cx*\U,1070.4*\U) {Time aloft: 82.2 days\ \ \ \ Data points: 1979};
\node[font=\fs{11}] at (\cx*\U,1047.7*\U) {Altitude: 7040 - 14100 m\ \ \ \ (float 1688 h)};
\node[font=\fs{11}] at (\cx*\U,1024.4*\U) {Latitude range: -34.65 to 42.77};
\node[font=\fs{11}] at (\cx*\U,1001.7*\U) {Path length: 206,701 km};
\node[font=\fs{11}] at (\cx*\U,978.4*\U) {Position source: Maidenhead 6-char grid\ \ \ \ σ(E,N) = 2973, 1836 m};
\node[font=\fs{11}] at (\cx*\U,955.4*\U) {Median sampling gap: 20 min\ \ \ \ Longest gap: 36.2 h};
\node[font=\fs{13},text=titleblue] at (\cx*\U,930.8*\U) {Data quality score: 0.926};
\node[font=\fs{9},text=black!67] at (\cx*\U,910.3*\U) {precision=0.93\ \ \ cadence=0.91\ \ \ agreement=1.00\ \ \ stability=0.96\ \ \ coverage=0.85};
\end{tikzpicture}
\end{document}
